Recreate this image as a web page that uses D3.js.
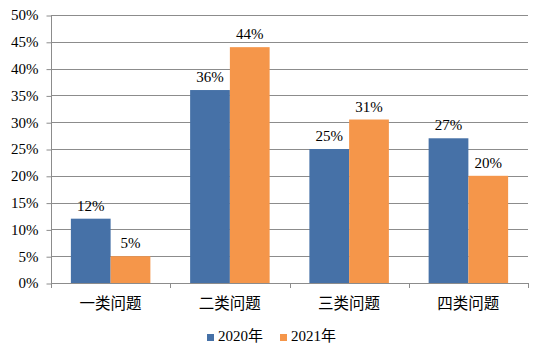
<!DOCTYPE html>
<html><head><meta charset="utf-8">
<script src="https://cdn.jsdelivr.net/npm/d3@7"></script>
<style>body{margin:0;background:#fff}svg{display:block}
.serif{font-family:"Liberation Serif","Times New Roman",Tinos,serif}
.cjk{font-family:"Noto Sans CJK SC","Noto Sans",sans-serif}
</style>
</head><body><svg id="c" width="542" height="356"></svg>
<script>
const categories = ["一类问题","二类问题","三类问题","四类问题"];
const seriesNames = ["2020年","2021年"];
const values2020 = [12, 36, 25, 27];
const values2021 = [5, 44, 30.5, 20];
const yTicks = [0,5,10,15,20,25,30,35,40,45,50];
const colors = ["#4671A7","#F5964A"];

const svg = d3.select("#c");
const mLeft = 51, mRight = 528, mTop = 15, mBottom = 283;

const y = d3.scaleLinear().domain([0,50]).range([mBottom, mTop]);
const x0 = d3.scaleBand().domain(categories).range([mLeft, mRight]).padding(0);
const x1 = d3.scaleBand().domain(seriesNames).range([x0.bandwidth()/6, x0.bandwidth()*5/6]).padding(0);

// gridlines
svg.append("g").selectAll("line").data(yTicks.filter(d=>d>0)).join("line")
  .attr("x1", mLeft).attr("x2", mRight)
  .attr("y1", d=>Math.round(y(d))+0.5).attr("y2", d=>Math.round(y(d))+0.5)
  .attr("stroke", "#8c8c8c").attr("stroke-width", 1);

// y axis
const ya = svg.append("g").attr("transform", `translate(${mLeft+0.5},0)`)
  .call(d3.axisLeft(y).tickValues(yTicks).tickSize(5).tickPadding(8).tickFormat(d=>d+"%"));
ya.attr("font-family", null).attr("font-size", null);
ya.select(".domain").attr("stroke","#8c8c8c").attr("d", `M0,${y(50)+0.5}V${y(0)+0.5}`);
ya.selectAll(".tick line").attr("stroke","#8c8c8c").attr("transform","translate(0,0.5)");
ya.selectAll("text").attr("class","serif").style("font-size","15px").attr("fill","#000");

// x axis
const boundaries = [mLeft, ...categories.map(c=>x0(c)+x0.bandwidth())];
svg.append("line").attr("x1", mLeft).attr("x2", mRight).attr("y1", mBottom+0.5).attr("y2", mBottom+0.5)
  .attr("stroke","#8c8c8c");
svg.append("g").selectAll("line").data(boundaries).join("line")
  .attr("x1", d=>Math.round(d)+0.5).attr("x2", d=>Math.round(d)+0.5).attr("y1", mBottom).attr("y2", mBottom+5)
  .attr("stroke","#8c8c8c");
svg.append("g").selectAll("text").data(categories).join("text")
  .attr("class","cjk")
  .attr("x", d=>x0(d)+x0.bandwidth()/2).attr("y", 309)
  .attr("text-anchor","middle").style("font-size","15.5px").attr("fill","#000")
  .text(d=>d);

// bars
const data = [];
categories.forEach((c,i)=>{
  data.push({c, s: seriesNames[0], v: values2020[i], col: colors[0]});
  data.push({c, s: seriesNames[1], v: values2021[i], col: colors[1]});
});
svg.append("g").selectAll("rect").data(data).join("rect")
  .attr("x", d=>x0(d.c)+x1(d.s)).attr("width", x1.bandwidth())
  .attr("y", d=>y(d.v)).attr("height", d=>y(0)-y(d.v))
  .attr("fill", d=>d.col);
svg.append("g").selectAll("text").data(data).join("text")
  .attr("class","serif")
  .attr("x", d=>x0(d.c)+x1(d.s)+x1.bandwidth()/2).attr("y", d=>y(d.v)-8)
  .attr("text-anchor","middle").style("font-size","15px").attr("fill","#000")
  .text(d=>Math.round(d.v)+"%");

// legend
const legX = [207, 280];
const lg = svg.append("g");
seriesNames.forEach((s,i)=>{
  lg.append("rect").attr("x", legX[i]).attr("y", 334).attr("width", 7).attr("height", 7).attr("fill", colors[i]);
  const t = lg.append("text").attr("x", legX[i]+11).attr("y", 341).style("font-size","15px").attr("fill","#000");
  t.append("tspan").attr("class","serif").text(s.replace("年",""));
  t.append("tspan").attr("class","cjk").text("年");
});
</script></body></html>
